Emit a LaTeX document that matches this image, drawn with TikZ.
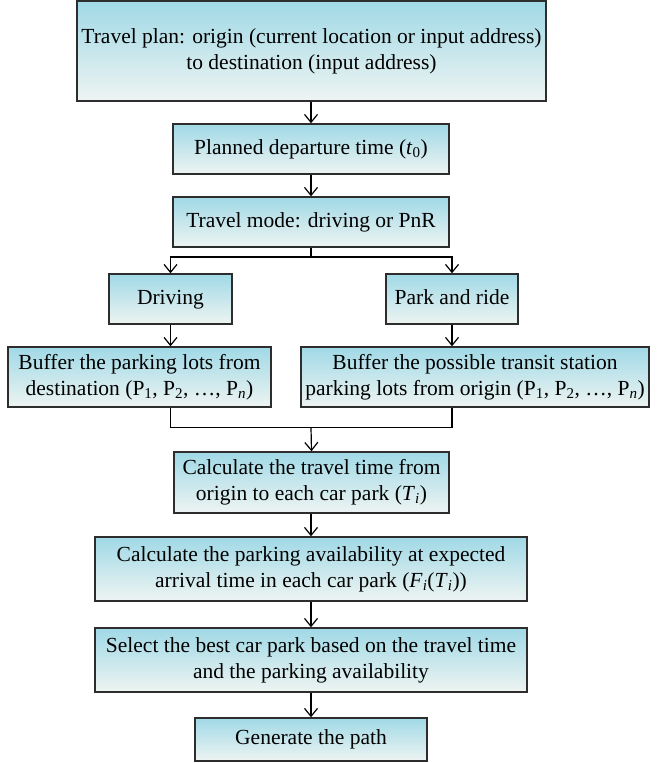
\documentclass[tikz,border=0pt]{standalone}
\usepackage{fontspec}
\setmainfont{Liberation Serif}
\usetikzlibrary{arrows.meta,calc}
\definecolor{boxtop}{RGB}{160,217,230}
\definecolor{boxbot}{RGB}{238,244,242}
\definecolor{boxline}{RGB}{45,45,45}
\tikzset{
  flowbox/.style={draw=boxline, line width=1.4pt, top color=boxtop, bottom color=boxbot,
    rectangle, inner sep=0pt, align=center, font=\fontsize{21.5}{26}\selectfont},
  conn/.style={draw=black, line width=1.2pt},
  arr/.style={conn, -{Straight Barb[length=8pt,width=13pt,line width=1.2pt]}}
}
\newcommand{\Pn}{(P\textsubscript{1}, P\textsubscript{2}, \ldots, P\textsubscript{\textit{n}})}
\begin{document}
\begin{tikzpicture}[x=1pt,y=1pt]
\useasboundingbox (0,0) rectangle (665,-763);
\node[flowbox, minimum width=469, minimum height=100] (b1) at (311.5,-51)
  {\strut Travel plan: origin (current location or input address)\\to destination (input address)\strut};
\node[flowbox, minimum width=276, minimum height=50] (b2) at (311,-149)
  {\strut Planned departure time (\textit{t}\textsubscript{0})};
\node[flowbox, minimum width=276, minimum height=50] (b3) at (311,-222)
  {\strut Travel mode: driving or PnR};
\node[flowbox, minimum width=123, minimum height=50] (drv) at (170.5,-299) {\strut Driving};
\node[flowbox, minimum width=132, minimum height=50] (pnr) at (452,-299) {\strut Park and ride};
\node[flowbox, minimum width=263, minimum height=60] (bufL) at (139.5,-377)
  {\strut Buffer the parking lots from\\destination \Pn\strut};
\node[flowbox, minimum width=348, minimum height=60] (bufR) at (475,-377)
  {\strut Buffer the possible transit station\\parking lots from origin \Pn\strut};
\node[flowbox, minimum width=275, minimum height=61] (c1) at (311.5,-482.5)
  {\strut Calculate the travel time from\\origin to each car park (\textit{T}\textsubscript{\textit{i}})\strut};
\node[flowbox, minimum width=432, minimum height=64] (c2) at (311,-569)
  {\strut Calculate the parking availability at expected\\arrival time in each car park (\textit{F}\textsubscript{\textit{i}}(\textit{T}\textsubscript{\textit{i}}))\strut};
\node[flowbox, minimum width=432, minimum height=64] (sel) at (311,-660)
  {\strut Select the best car park based on the travel time\\and the parking availability\strut};
\node[flowbox, minimum width=232, minimum height=43] (gen) at (311,-739.5)
  {\strut Generate the path};

\coordinate (split) at (311,-257);
\coordinate (join) at (311,-427.3);

\draw[arr] (b1.south -| b2.north) -- (b2.north);
\draw[arr] (b2.south) -- (b3.north);
\draw[conn] (b3.south) -- (split);
\draw[arr] (split) -| (drv.north);
\draw[arr] (split) -| (pnr.north);
\draw[arr] (drv.south) -- (drv.south |- bufL.north);
\draw[arr] (pnr.south) -- (pnr.south |- bufR.north);
\draw[conn] (drv.south |- bufL.south) |- (join);
\draw[conn] (pnr.south |- bufR.south) |- (join);
\draw[arr] (join) -- (c1.north);
\draw[arr] (c1.south -| c2.north) -- (c2.north);
\draw[arr] (c2.south) -- (sel.north);
\draw[arr] (sel.south) -- (gen.north);
\end{tikzpicture}
\end{document}
